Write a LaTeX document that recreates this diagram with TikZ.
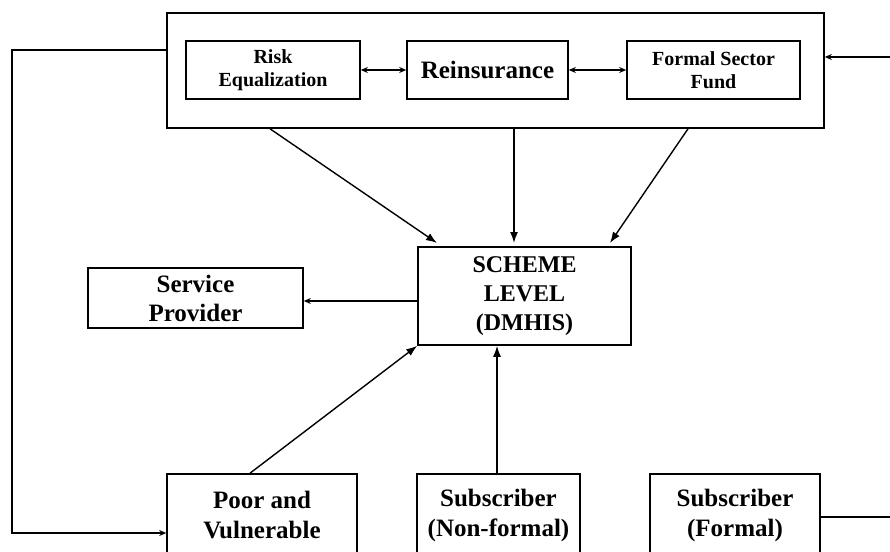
\documentclass[tikz,border=0pt]{standalone}
\usepackage{fontspec}
\setmainfont{Liberation Serif}
\usetikzlibrary{arrows.meta}
\begin{document}
\begin{tikzpicture}[x=1pt,y=-1pt,
  box/.style={draw, line width=1.6pt, inner sep=0pt, align=center, font=\bfseries},
  conn/.style={line width=1.4pt},
  bigtip/.style={-{Latex[length=11pt,width=8pt]}},
  smalltip/.style={-{Stealth[length=7pt,width=6pt]}},
  dbltip/.style={{Stealth[length=7pt,width=6pt]}-{Stealth[length=7pt,width=6pt]}},
]
\useasboundingbox (0,0) rectangle (890,551);
\clip (0,0) rectangle (890,551);
% top group
\node[box, minimum width=657pt, minimum height=115pt] (outer) at (495.5,70.5) {};
\node[box, minimum width=174pt, minimum height=58pt, font=\bfseries\fontsize{20}{23}\selectfont] (risk) at (273,70) {Risk\\Equalization};
\node[box, minimum width=161pt, minimum height=58pt, font=\bfseries\fontsize{25}{29}\selectfont] (rein) at (487.5,70) {Reinsurance};
\node[box, minimum width=173pt, minimum height=58pt, font=\bfseries\fontsize{20}{23}\selectfont] (fund) at (713.5,70) {Formal Sector\\Fund};
% middle
\node[box, minimum width=213pt, minimum height=98pt, font=\bfseries\fontsize{24}{29}\selectfont] (scheme) at (524.5,296) {SCHEME\\LEVEL\\(DMHIS)};
\node[box, minimum width=215pt, minimum height=60pt, font=\bfseries\fontsize{25}{29}\selectfont] (service) at (195.5,298) {Service\\Provider};
% bottom
\node[box, minimum width=190pt, minimum height=82pt, font=\bfseries\fontsize{25}{30}\selectfont] (poor) at (262,515) {Poor and\\Vulnerable};
\node[box, minimum width=163pt, minimum height=82pt, font=\bfseries\fontsize{25}{30}\selectfont] (nonformal) at (498.5,515) {Subscriber\\(Non-formal)};
\node[box, minimum width=170pt, minimum height=82pt, font=\bfseries\fontsize{25}{30}\selectfont] (formal) at (735,515) {Subscriber\\(Formal)};
% coordinates
\coordinate (rin) at (890,57);
\coordinate (lt) at (12,50);
\coordinate (lb) at (12,533);
\coordinate (rout) at (890,517);
\coordinate (a1) at (270,0);
\coordinate (a2) at (514,0);
\coordinate (a3) at (688,0);
\coordinate (e1) at (437,243);
\coordinate (e2) at (514,243);
\coordinate (e3) at (610,243);
\coordinate (sp) at (0,301);
\coordinate (pv) at (250,0);
\coordinate (nf) at (497,0);
% connectors
\draw[conn, dbltip] (risk) -- (rein);
\draw[conn, dbltip] (rein) -- (fund);
\draw[conn, smalltip] (rin) -- (outer.east |- rin);
\draw[conn, smalltip] (outer.west |- lt) -- (lt) -- (lb) -- (poor.west |- lb);
\draw[conn, bigtip] (outer.south -| a1) -- (e1);
\draw[conn, bigtip] (outer.south -| a2) -- (e2);
\draw[conn, bigtip] (outer.south -| a3) -- (e3);
\draw[conn, smalltip] (scheme.west |- sp) -- (service.east |- sp);
\draw[conn, bigtip] (poor.north -| pv) -- (scheme.south west);
\draw[conn, bigtip] (nonformal.north -| nf) -- (scheme.south -| nf);
\draw[conn] (formal.east |- rout) -- (rout);
\end{tikzpicture}
\end{document}
